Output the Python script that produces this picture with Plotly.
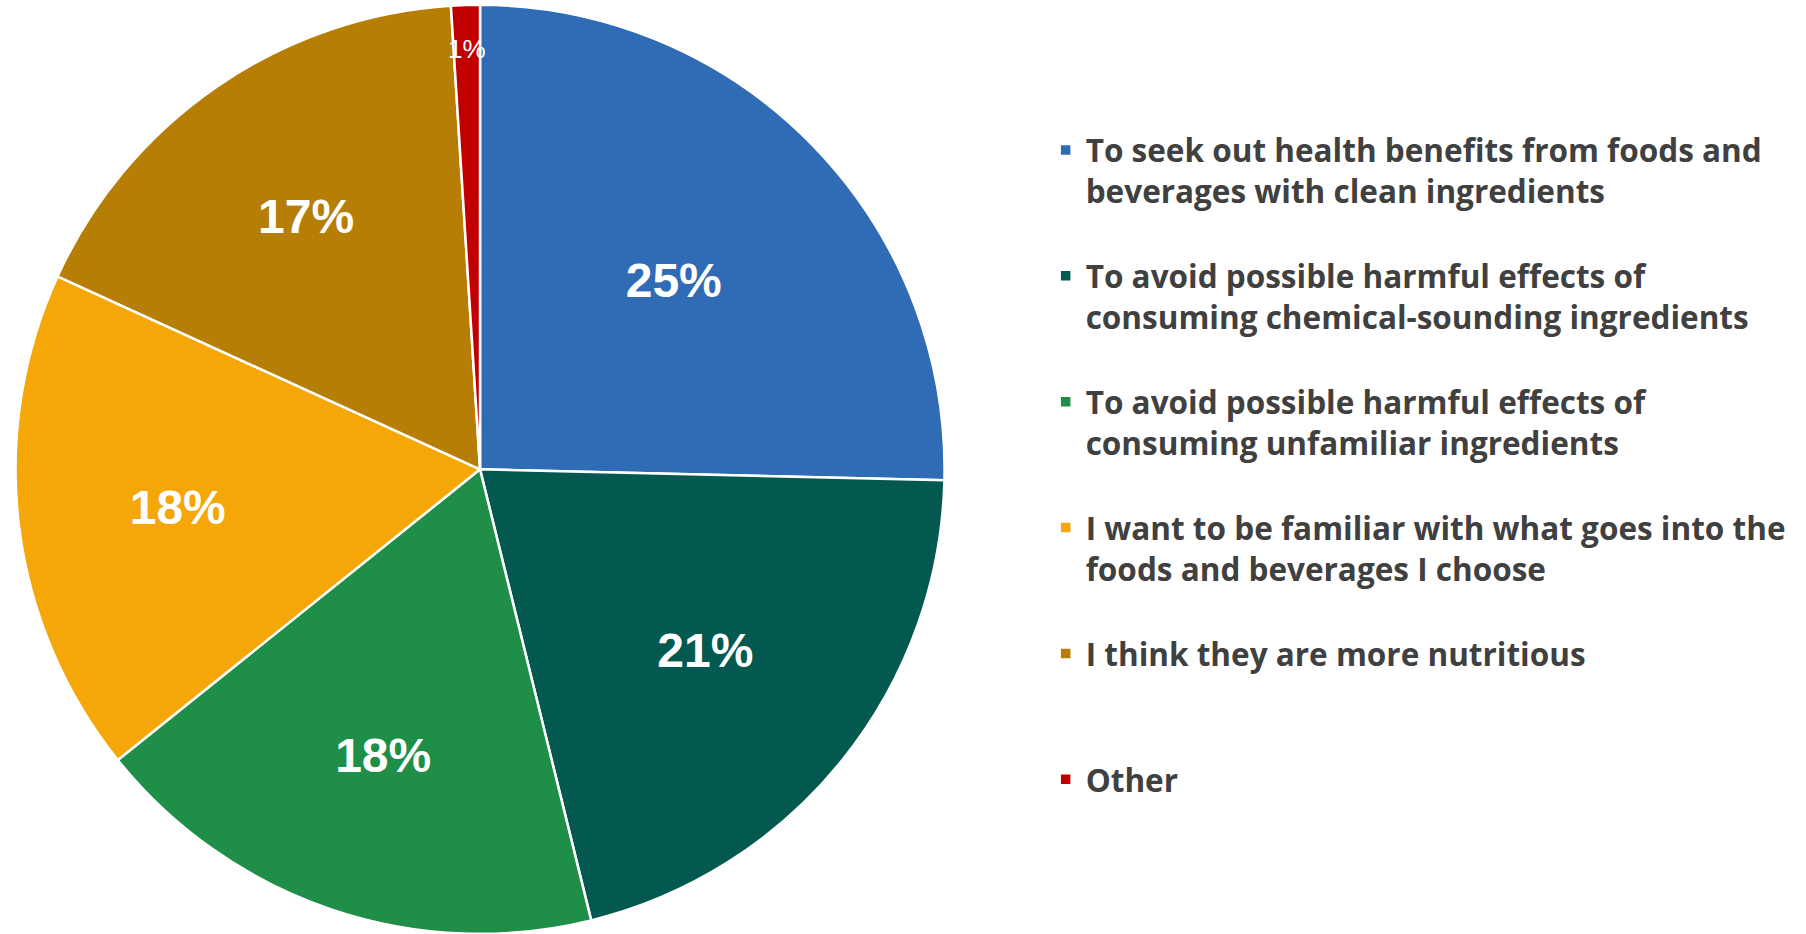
import math
import plotly.graph_objects as go

# Reasons for choosing products with clean / familiar ingredients
reasons = [
    "To seek out health benefits from foods and<br>beverages with clean ingredients",
    "To avoid possible harmful effects of<br>consuming chemical-sounding ingredients",
    "To avoid possible harmful effects of<br>consuming unfamiliar ingredients",
    "I want to be familiar with what goes into the<br>foods and beverages I choose",
    "I think they are more nutritious",
    "Other",
]
shares = [25.4, 20.8, 18.1, 17.6, 17.2, 1.0]
colors = ["#306BB6", "#035950", "#1E8E48", "#F4A706", "#B77E05", "#C00000"]

# pad each legend entry to three lines so entries are evenly spaced
legend_names = []
for r in reasons:
    n = r.count("<br>") + 1
    legend_names.append(r + "<br> " * (3 - n) if r != reasons[-1] else r)

W, H = 1806, 934
dom_x = [0.0086, 0.523]
dom_y = [0.0, 0.995]

# the tiny last slice gets its label drawn separately near the rim
text_pos = ["inside"] * (len(shares) - 1) + ["none"]

fig = go.Figure(
    go.Pie(
        labels=legend_names,
        values=shares,
        sort=False,
        direction="clockwise",
        rotation=0,
        marker=dict(colors=colors, line=dict(color="white", width=2.5)),
        texttemplate="%{percent:.0%}",
        textposition=text_pos,
        insidetextorientation="horizontal",
        textfont=dict(family="Liberation Sans, Arial, sans-serif", size=48,
                      color="white", weight="bold"),
        domain=dict(x=dom_x, y=dom_y),
        hoverinfo="label+percent",
    )
)

# label for the smallest slice, placed at its mid-angle near the rim
total = sum(shares)
start = sum(shares[:-1]) / total
mid_angle = 2 * math.pi * (start + shares[-1] / total / 2)
cx = (dom_x[0] + dom_x[1]) / 2 * W
cy = H - (dom_y[0] + dom_y[1]) / 2 * H
radius = min((dom_x[1] - dom_x[0]) * W, (dom_y[1] - dom_y[0]) * H) / 2
lx = cx + 0.905 * radius * math.sin(mid_angle)
ly = cy - 0.905 * radius * math.cos(mid_angle)
fig.add_annotation(
    x=lx / W,
    y=1 - ly / H,
    xref="paper",
    yref="paper",
    xanchor="center",
    yanchor="middle",
    text=f"{round(shares[-1] / total * 100)}%",
    showarrow=False,
    font=dict(family="Liberation Sans, Arial, sans-serif", size=26,
              color="white", weight="normal"),
)

fig.update_layout(
    width=W,
    height=H,
    margin=dict(l=0, r=0, t=0, b=0),
    paper_bgcolor="white",
    plot_bgcolor="white",
    showlegend=True,
    legend=dict(
        x=0.579,
        xanchor="left",
        y=1 - 123 / H,
        yanchor="top",
        valign="top",
        font=dict(family="Open Sans, sans-serif", size=31.5, color="#404040", weight=700),
        bgcolor="rgba(0,0,0,0)",
    ),
)

fig.write_html("out.html")
